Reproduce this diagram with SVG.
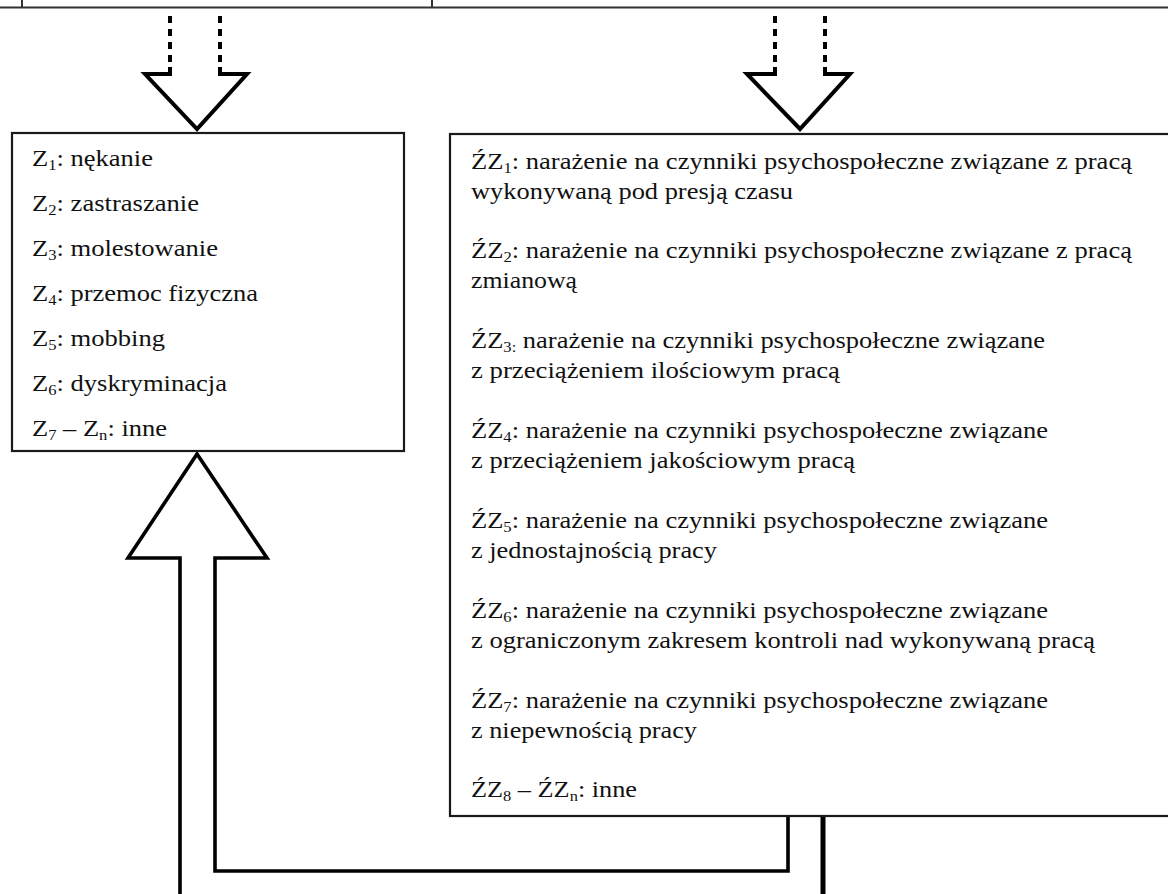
<svg xmlns="http://www.w3.org/2000/svg" width="1168" height="894" viewBox="0 0 1168 894">
<style>
.box{fill:#fff;stroke:#1a1a1a;stroke-width:2.2}
.t{font-family:"Liberation Serif","Times New Roman","DejaVu Serif",serif;font-size:24px;fill:#111}
.s{font-size:15px}
.arr{fill:none;stroke:#000;stroke-width:4;stroke-linejoin:miter;stroke-miterlimit:10}
.dash{fill:none;stroke:#000;stroke-width:4;stroke-dasharray:7 6}
.rule{stroke:#333;stroke-width:2;fill:none}
</style>
<rect width="1168" height="894" fill="#fff"/>
<g id="table-edge">
<line class="rule" x1="0" y1="7.5" x2="1168" y2="7.5"/>
<line class="rule" x1="22" y1="0" x2="22" y2="7"/>
<line class="rule" x1="432" y1="0" x2="432" y2="7"/>
</g>
<g id="connectors">
<line class="dash" x1="170" y1="16" x2="170" y2="64"/>
<line class="dash" x1="220" y1="16" x2="220" y2="64"/>
<path class="arr" d="M170,67 L170,74 L145,74 L197,129 L247,74 L220,74 L220,67"/>
<line class="dash" x1="775" y1="16" x2="775" y2="64"/>
<line class="dash" x1="825" y1="16" x2="825" y2="64"/>
<path class="arr" d="M775,67 L775,74 L747,74 L800,129 L850,74 L825,74 L825,67"/>
<path class="arr" style="stroke-width:3.6" d="M180,894 L180,558 L128,558 L197,454 L267,558 L215,558 L215,871 L788,871 L788,816"/>
<line class="arr" style="stroke-width:5" x1="823" y1="816" x2="823" y2="894"/>
</g>
<g id="node-z" font-family="Liberation Serif, Times New Roman, serif">
<rect class="box" x="12" y="133" width="392" height="318"/>
<text class="t" x="32" y="166" textLength="121" lengthAdjust="spacingAndGlyphs">Z<tspan class="s" dy="4">1</tspan><tspan dy="-4">: nękanie</tspan></text>
<text class="t" x="32" y="211" textLength="167" lengthAdjust="spacingAndGlyphs">Z<tspan class="s" dy="4">2</tspan><tspan dy="-4">: zastraszanie</tspan></text>
<text class="t" x="32" y="256" textLength="186" lengthAdjust="spacingAndGlyphs">Z<tspan class="s" dy="4">3</tspan><tspan dy="-4">: molestowanie</tspan></text>
<text class="t" x="32" y="301" textLength="226" lengthAdjust="spacingAndGlyphs">Z<tspan class="s" dy="4">4</tspan><tspan dy="-4">: przemoc fizyczna</tspan></text>
<text class="t" x="32" y="346" textLength="133" lengthAdjust="spacingAndGlyphs">Z<tspan class="s" dy="4">5</tspan><tspan dy="-4">: mobbing</tspan></text>
<text class="t" x="32" y="391" textLength="195" lengthAdjust="spacingAndGlyphs">Z<tspan class="s" dy="4">6</tspan><tspan dy="-4">: dyskryminacja</tspan></text>
<text class="t" x="32" y="436" textLength="135" lengthAdjust="spacingAndGlyphs">Z<tspan class="s" dy="4">7</tspan><tspan dy="-4"> – Z</tspan><tspan class="s" dy="4">n</tspan><tspan dy="-4">: inne</tspan></text>
</g>
<g id="node-zz" font-family="Liberation Serif, Times New Roman, serif">
<rect class="box" x="450" y="134" width="740" height="682"/>
<text class="t" x="471" y="169" textLength="661" lengthAdjust="spacingAndGlyphs">ŹZ<tspan class="s" dy="4">1</tspan><tspan dy="-4">: narażenie na czynniki psychospołeczne związane z pracą</tspan></text>
<text class="t" x="471" y="199" textLength="322" lengthAdjust="spacingAndGlyphs">wykonywaną pod presją czasu</text>
<text class="t" x="471" y="258" textLength="661" lengthAdjust="spacingAndGlyphs">ŹZ<tspan class="s" dy="4">2</tspan><tspan dy="-4">: narażenie na czynniki psychospołeczne związane z pracą</tspan></text>
<text class="t" x="471" y="288" textLength="106" lengthAdjust="spacingAndGlyphs">zmianową</text>
<text class="t" x="471" y="348" textLength="574" lengthAdjust="spacingAndGlyphs">ŹZ<tspan class="s" dy="4">3:</tspan><tspan dy="-4"> narażenie na czynniki psychospołeczne związane</tspan></text>
<text class="t" x="471" y="378" textLength="369" lengthAdjust="spacingAndGlyphs">z przeciążeniem ilościowym pracą</text>
<text class="t" x="471" y="438" textLength="577" lengthAdjust="spacingAndGlyphs">ŹZ<tspan class="s" dy="4">4</tspan><tspan dy="-4">: narażenie na czynniki psychospołeczne związane</tspan></text>
<text class="t" x="471" y="468" textLength="384" lengthAdjust="spacingAndGlyphs">z przeciążeniem jakościowym pracą</text>
<text class="t" x="471" y="528" textLength="577" lengthAdjust="spacingAndGlyphs">ŹZ<tspan class="s" dy="4">5</tspan><tspan dy="-4">: narażenie na czynniki psychospołeczne związane</tspan></text>
<text class="t" x="471" y="558" textLength="246" lengthAdjust="spacingAndGlyphs">z jednostajnością pracy</text>
<text class="t" x="471" y="618" textLength="577" lengthAdjust="spacingAndGlyphs">ŹZ<tspan class="s" dy="4">6</tspan><tspan dy="-4">: narażenie na czynniki psychospołeczne związane</tspan></text>
<text class="t" x="471" y="648" textLength="624" lengthAdjust="spacingAndGlyphs">z ograniczonym zakresem kontroli nad wykonywaną pracą</text>
<text class="t" x="471" y="708" textLength="577" lengthAdjust="spacingAndGlyphs">ŹZ<tspan class="s" dy="4">7</tspan><tspan dy="-4">: narażenie na czynniki psychospołeczne związane</tspan></text>
<text class="t" x="471" y="738" textLength="226" lengthAdjust="spacingAndGlyphs">z niepewnością pracy</text>
<text class="t" x="471" y="797" textLength="166" lengthAdjust="spacingAndGlyphs">ŹZ<tspan class="s" dy="4">8</tspan><tspan dy="-4"> – ŹZ</tspan><tspan class="s" dy="4">n</tspan><tspan dy="-4">: inne</tspan></text>
</g>
</svg>
